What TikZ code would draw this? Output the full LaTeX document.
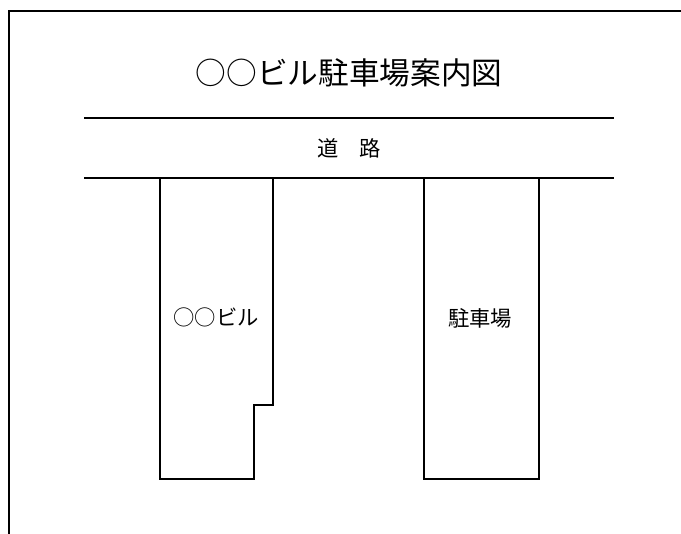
\documentclass[tikz,border=0pt]{standalone}
\usepackage{fontspec}
\setmainfont{Noto Sans CJK JP}
\begin{document}
\begin{tikzpicture}[x=0.75pt,y=-0.75pt,
  wall/.style={line width=1.1pt, black},
  lbl/.style={inner sep=0pt, font=\fontsize{16}{18}\selectfont},
  ttl/.style={inner sep=0pt, font=\fontsize{23}{26}\selectfont}]
\useasboundingbox (0,0) rectangle (681,534);
% frame
\draw[wall] (9,534) -- (9,11) -- (681,11);
% road
\draw[wall] (84,118) -- (614,118);
\draw[wall] (84,178) -- (614,178);
% building
\draw[wall] (160,178) -- (160,479) -- (254,479) -- (254,405) -- (273,405) -- (273,178);
% parking
\draw[wall] (424,178) -- (424,479) -- (539,479) -- (539,178);
% texts
\node[ttl] (title) at (349,73) {○○ビル駐車場案内図};
\node[lbl] (road) at (349,148) {道　路};
\node[lbl] (bldg) at (216,317) {○○ビル};
\node[lbl] (park) at (480,318) {駐車場};
\end{tikzpicture}
\end{document}
